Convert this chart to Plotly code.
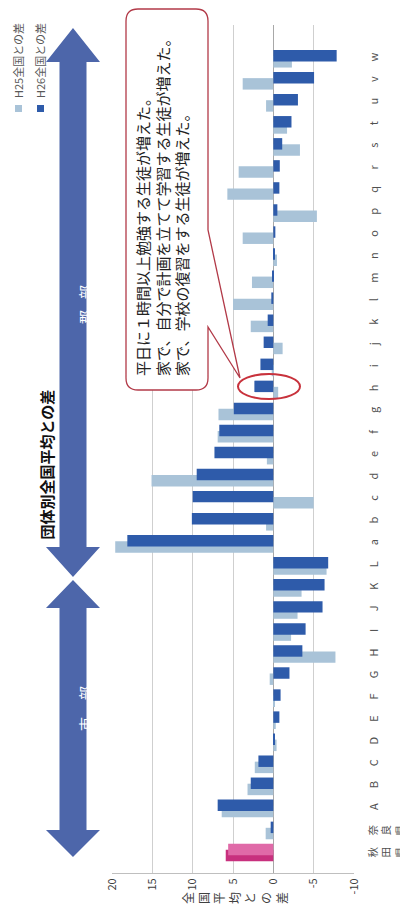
import plotly.graph_objects as go

# ---- data ----
categories = ["秋田県", "奈良県", "A", "B", "C", "D", "E", "F", "G", "H", "I", "J", "K", "L",
              "a", "b", "c", "d", "e", "f", "g", "h", "i", "j", "k", "l", "m", "n", "o",
              "p", "q", "r", "s", "t", "u", "v", "w"]
prefectures = ["秋田県", "奈良県"]
h25 = [5.9, 0.95, 6.4, 3.2, 2.3, -0.4, -0.3, -0.2, 0.45, -7.7, -2.2, -3.0, -3.5, -6.6,
       19.6, 0.9, -5.0, 15.1, 0.8, 6.9, 6.8, -0.6, 0.2, -1.15, 2.8, 5.0, 2.65, -0.45, 3.8,
       -5.4, 5.7, 4.3, -3.3, -1.7, 0.9, 3.8, -2.3]
h26 = [5.6, 0.33, 6.9, 2.8, 1.85, -0.2, -0.75, -0.9, -2.0, -3.6, -4.0, -6.1, -6.35, -6.8,
       18.1, 10.1, 10.0, 9.5, 7.3, 6.7, 4.9, 2.35, 1.6, 1.2, 0.7, 0.25, 0.1, -0.15, -0.25,
       -0.5, -0.75, -0.8, -1.1, -2.25, -3.05, -5.05, -7.85]
value_ticks = [20, 15, 10, 5, 0, -5, -10]
series_names = ["H25全国との差", "H26全国との差"]
callout_lines = ["平日に１時間以上勉強する生徒が増えた。",
                 "家で、自分で計画を立てて学習する生徒が増えた。",
                 "家で、学校の復習をする生徒が増えた。"]

C25 = "#A9C3D8"
C26 = "#2E5BAA"
colors25 = ["#C8307E"] + [C25] * (len(categories) - 1)
colors26 = ["#E06AA8"] + [C26] * (len(categories) - 1)

# category tick text: prefectures are drawn as stacked annotations instead
tick_labels = ["" if c in prefectures else c for c in categories]

# The page body has an 8px margin, so the figure is shifted by OFF px on screen.
OFF = 8
SW, SH = 408, 918
# plot-area frame in screen pixels
L, R, T, B = 112, 354, 25, 873
W, H = R - L, B - T


def px(x):
    return (x - L) / W


def py(y):
    return (B - y) / H


fig = go.Figure()
fig.add_trace(go.Bar(y=categories, x=h25, orientation="h", name=series_names[0],
                     marker=dict(color=colors25, line=dict(width=0)),
                     offset=-0.4, width=0.52, showlegend=False))
fig.add_trace(go.Bar(y=categories, x=h26, orientation="h", name=series_names[1],
                     marker=dict(color=colors26, line=dict(width=0)),
                     offset=-0.12, width=0.52, showlegend=False))

fig.update_layout(
    width=SW - OFF, height=SH - OFF,
    margin=dict(l=L - OFF, r=SW - R, t=T - OFF, b=SH - B, autoexpand=False),
    paper_bgcolor="white", plot_bgcolor="white",
    barmode="overlay",
    font=dict(family="Noto Sans CJK JP, Noto Sans, sans-serif", color="#404040"),
    xaxis=dict(range=[20, -10], tickvals=value_ticks, ticktext=[str(v) for v in value_ticks],
               tickangle=-90, showgrid=True, gridcolor="#CFCFCF", gridwidth=1,
               zeroline=True, zerolinecolor="#A8A8A8", zerolinewidth=1, automargin=False,
               showline=True, linecolor="#BFBFBF", ticks="", tickfont=dict(size=11, color="#404040")),
    yaxis=dict(type="category", categoryorder="array", categoryarray=categories,
               range=[-0.93, 37.53], side="right", tickvals=categories, ticktext=tick_labels,
               tickangle=-90, showgrid=False, zeroline=False, showline=False, ticks="",
               automargin=False, ticklabelstandoff=12, tickfont=dict(size=11, color="#505050")),
)

shapes = []
ARROW = "#4D66AA"


def double_arrow(top_tip, top_base, bot_base, bot_tip, cx=73, hw=27, sw=13.5):
    pts = [(cx, top_tip), (cx + hw, top_base), (cx + sw, top_base), (cx + sw, bot_base),
           (cx + hw, bot_base), (cx, bot_tip), (cx - hw, bot_base), (cx - sw, bot_base),
           (cx - sw, top_base), (cx - hw, top_base)]
    path = "M " + " L ".join(f"{px(x):.5f},{py(y):.5f}" for x, y in pts) + " Z"
    return dict(type="path", xref="paper", yref="paper", path=path,
                fillcolor=ARROW, line=dict(width=0), layer="above")


shapes.append(double_arrow(28, 62, 547, 577))
shapes.append(double_arrow(580, 608, 830, 857))

# callout box with pointer
x0, x1, y0, y1, r = 126, 208, 9, 390, 12


def P(x, y):
    return f"{px(x):.5f},{py(y):.5f}"


path = (f"M {P(x0 + r, y0)} L {P(x1 - r, y0)} Q {P(x1, y0)} {P(x1, y0 + r)} "
        f"L {P(x1, 230)} L {P(240, 378)} L {P(x1, 327)} L {P(x1, y1 - r)} "
        f"Q {P(x1, y1)} {P(x1 - r, y1)} L {P(x0 + r, y1)} Q {P(x0, y1)} {P(x0, y1 - r)} "
        f"L {P(x0, y0 + r)} Q {P(x0, y0)} {P(x0 + r, y0)} Z")
shapes.append(dict(type="path", xref="paper", yref="paper", path=path,
                   fillcolor="white", line=dict(color="#B23A48", width=1.3), layer="above"))
# ellipse
shapes.append(dict(type="circle", xref="paper", yref="paper",
                   x0=px(238), x1=px(300), y0=py(399), y1=py(374),
                   line=dict(color="#C8323C", width=2), fillcolor="rgba(0,0,0,0)", layer="above"))
# legend markers
shapes.append(dict(type="rect", xref="paper", yref="paper", x0=px(15), x1=px(22),
                   y0=py(112), y1=py(105), fillcolor=C25, line=dict(width=0)))
shapes.append(dict(type="rect", xref="paper", yref="paper", x0=px(37), x1=px(44),
                   y0=py(112), y1=py(105), fillcolor=C26, line=dict(width=0)))
fig.update_layout(shapes=shapes)

ann = []
# legend text
for i, xx in enumerate([18.5, 40.5]):
    ann.append(dict(x=px(xx), y=py(100), xref="paper", yref="paper", text=series_names[i],
                    textangle=-90, showarrow=False, xanchor="center", yanchor="bottom",
                    font=dict(size=11, color="#595959")))
# title
ann.append(dict(x=px(33), y=py(465), xref="paper", yref="paper", text="<b>団体別全国平均との差</b>",
                textangle=-90, showarrow=False, font=dict(size=15, color="#111111")))
# arrow labels
for ch, yy in [("部", 283), ("郡", 317), ("部", 702), ("市", 733)]:
    ann.append(dict(x=px(73), y=py(yy), xref="paper", yref="paper", text=ch, textangle=-90,
                    showarrow=False, font=dict(size=14, color="white")))
# prefecture category labels (stacked characters, rotated like the rest of the chart)
for name in prefectures:
    ann.append(dict(x=px(386), y=name, xref="paper", yref="y",
                    text="<br>".join(list(name)), textangle=-90, showarrow=False,
                    xanchor="center", yanchor="middle",
                    font=dict(size=10.5, color="#505050")))
# callout text
ann.append(dict(x=px(162), y=py(378), xref="paper", yref="paper",
                text="<br>".join(callout_lines), textangle=-90, align="left",
                showarrow=False, xanchor="center", yanchor="bottom",
                font=dict(size=15, color="#222222")))
# axis title (stacked characters)
ann.append(dict(x=px(234), y=py(906), xref="paper", yref="paper",
                text="<br>".join(list("全国平均との差")), textangle=-90,
                showarrow=False, font=dict(size=12, color="#404040")))
fig.update_layout(annotations=ann)

fig.write_html("out.html")
